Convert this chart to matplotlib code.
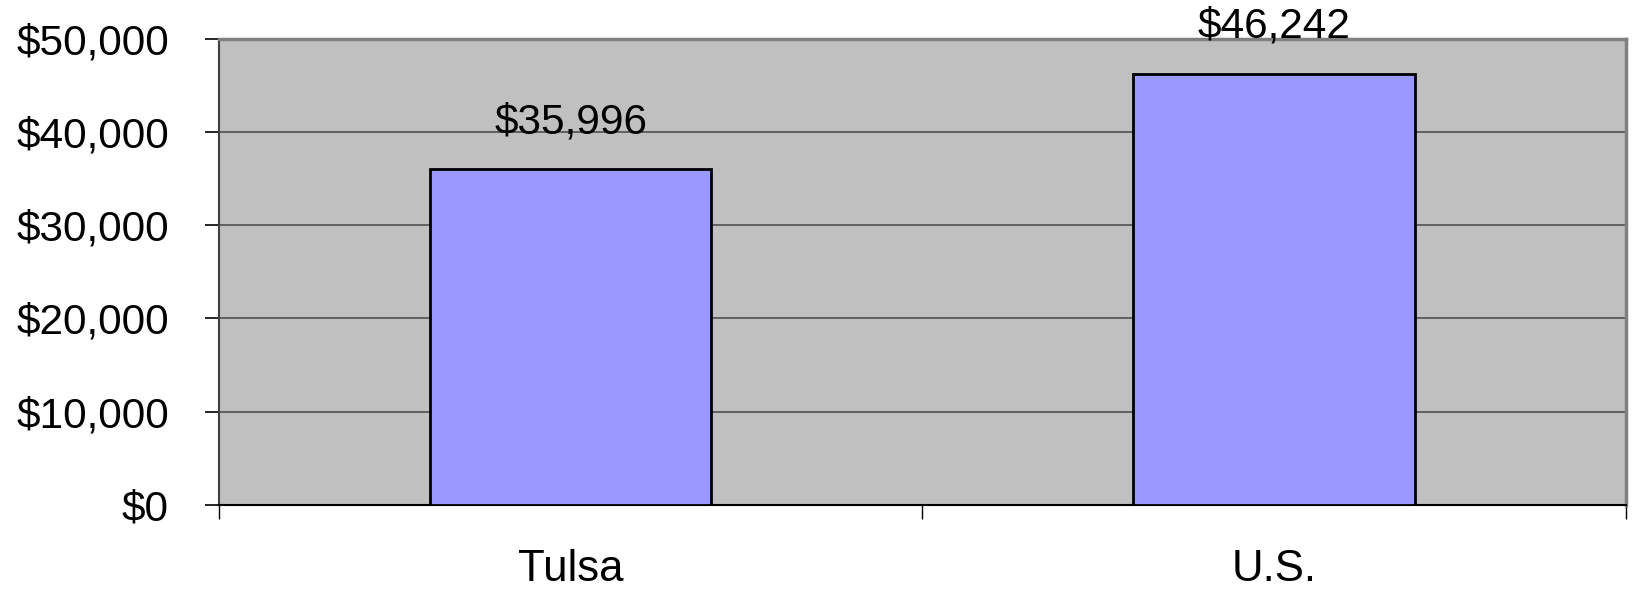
import matplotlib.pyplot as plt
from matplotlib.ticker import FuncFormatter, FixedLocator

# data
places = ["Tulsa", "U.S."]
income = [35996, 46242]
y_ticks = [0, 10000, 20000, 30000, 40000, 50000]

plt.rcParams['font.family'] = ['Liberation Sans', 'DejaVu Sans']

fig = plt.figure(figsize=(16.39, 5.90), dpi=100)
ax = fig.add_axes([0.1336, 0.144, 0.992 - 0.1336, 0.9347 - 0.144])
ax.set_facecolor('#C0C0C0')

x = list(range(len(places)))
bars = ax.bar(x, income, width=0.4, color='#9999FF', edgecolor='black',
              linewidth=2, zorder=3)

for b, v in zip(bars, income):
    ax.annotate("${:,}".format(v), (b.get_x() + b.get_width() / 2, v),
                xytext=(0, 26), textcoords='offset points',
                ha='center', va='baseline', fontsize=30.5, zorder=4,
                annotation_clip=False)

ax.set_xlim(-0.5, len(places) - 0.5)
ax.set_ylim(0, 50000)
ax.set_yticks(y_ticks)
ax.yaxis.set_major_formatter(FuncFormatter(lambda v, p: "${:,.0f}".format(v)))
ax.yaxis.grid(True, color='#505050', linewidth=1.2, zorder=1)

# category labels at centres, tick marks at boundaries
ax.set_xticks(x)
ax.set_xticklabels(places)
ax.xaxis.set_minor_locator(FixedLocator([-0.5, 0.5, 1.5]))
ax.tick_params(axis='x', which='major', length=0, pad=32, labelsize=31.5)
ax.tick_params(axis='x', which='minor', length=10, width=1, color='black')
ax.tick_params(axis='y', length=10, width=1.2, pad=26, labelsize=30.5)

for side in ['top', 'right']:
    ax.spines[side].set_color('#808080')
    ax.spines[side].set_linewidth(2.5)
ax.spines['left'].set_color('#404040')
ax.spines['left'].set_linewidth(1.5)
ax.spines['bottom'].set_color('black')
ax.spines['bottom'].set_linewidth(1.5)

fig.savefig('out.png', dpi=100)
